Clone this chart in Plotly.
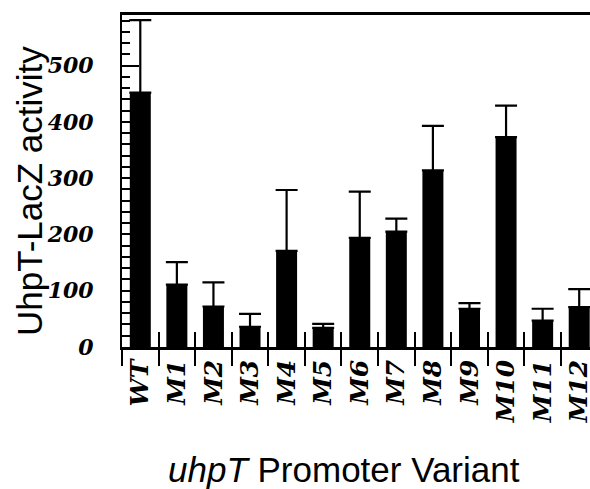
import plotly.graph_objects as go

variants = ["WT", "M1", "M2", "M3", "M4", "M5", "M6", "M7", "M8", "M9", "M10", "M11", "M12"]
activity = [452, 111, 72, 36, 171, 34, 194, 205, 314, 68, 373, 47, 71]
error_plus = [129, 40, 43, 23, 108, 7, 82, 23, 79, 10, 56, 21, 32]
y_ticks = [0, 100, 200, 300, 400, 500]

W, H = 590, 489
ml, mr, mt, mb = 122, 0, 15, 142
pw = W - ml - mr
ph = H - mt - mb

xtick_font = dict(family="DejaVu Serif", size=25, color="black", weight="bold", style="italic")
ytick_font = dict(family="DejaVu Serif", size=22, color="black", weight="bold", style="italic")
title_font = dict(family="Liberation Sans, Arial", size=35, color="black")

fig = go.Figure()
fig.add_trace(go.Bar(
    x=variants, y=activity,
    marker=dict(color="black", line=dict(width=0)),
    error_y=dict(type="data", symmetric=False, array=error_plus,
                 arrayminus=[0] * len(error_plus),
                 color="black", thickness=2.2, width=11),
    xaxis="x", yaxis="y", hoverinfo="skip", showlegend=False,
))
# invisible companion trace so the overlay axis draws the inner boundary ticks
fig.add_trace(go.Scatter(
    x=variants, y=activity, mode="markers",
    marker=dict(opacity=0), xaxis="x2", yaxis="y",
    hoverinfo="skip", showlegend=False,
))

xrange = [-0.5, 12.295]
fig.update_layout(
    width=W, height=H,
    margin=dict(l=ml, r=mr, t=mt, b=mb, autoexpand=False),
    plot_bgcolor="white", paper_bgcolor="white",
    bargap=0.426,
    xaxis=dict(
        type="category", range=xrange,
        showline=True, linecolor="black", linewidth=2.5, mirror=True,
        ticks="outside", tickson="boundaries", ticklen=16, tickwidth=1.5, tickcolor="black",
        tickangle=-90, tickfont=xtick_font, showgrid=False, zeroline=False,
        automargin=False,
    ),
    xaxis2=dict(
        type="category", range=xrange, overlaying="x", matches="x",
        showline=False, ticks="inside", tickson="boundaries", ticklen=15,
        tickwidth=1.5, tickcolor="black", showticklabels=False, showgrid=False,
        zeroline=False,
    ),
    yaxis=dict(
        range=[0, 590], tickvals=y_ticks,
        showline=True, linecolor="black", linewidth=2,
        ticks="inside", ticklen=17, tickwidth=1.5, tickcolor="black",
        minor=dict(dtick=20, tick0=0, ticks="inside", ticklen=8, tickwidth=1.5, tickcolor="black"),
        tickfont=ytick_font, ticklabelstandoff=22,
        showgrid=False, zeroline=False, automargin=False,
    ),
    annotations=[
        dict(text="UhpT-LacZ activity", xref="paper", yref="paper",
             x=(30 - ml) / pw, y=(ph + mt - 191) / ph, textangle=-90,
             showarrow=False, font=title_font, xanchor="center", yanchor="middle"),
        dict(text="<i>uhpT</i> Promoter Variant", xref="paper", yref="paper",
             x=(344 - ml) / pw, y=(ph + mt - 469) / ph,
             showarrow=False, font=title_font, xanchor="center", yanchor="middle"),
    ],
)

fig.write_html(
    "out.html",
    config={"displayModeBar": False},
    post_script="document.body.style.margin='0';document.body.style.overflow='hidden';",
)
